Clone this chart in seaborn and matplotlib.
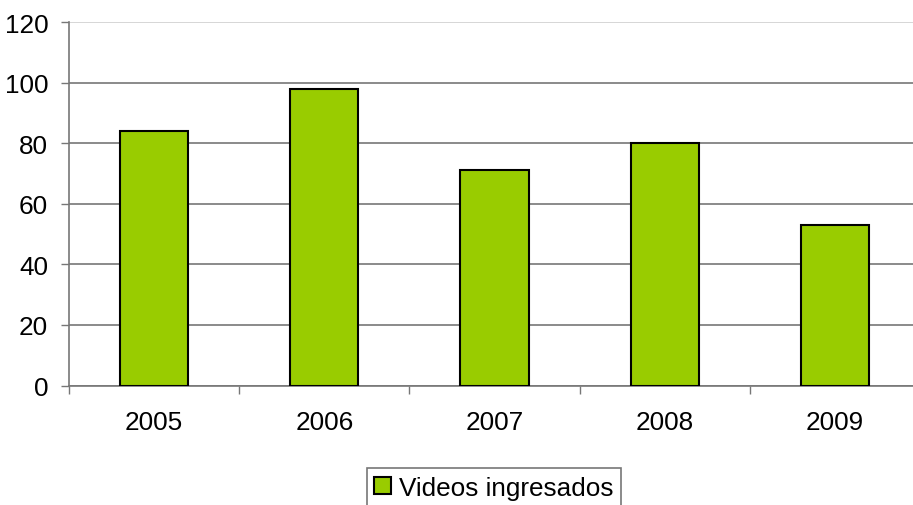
import matplotlib
matplotlib.use("Agg")
import matplotlib.pyplot as plt
from matplotlib.patches import Patch
from matplotlib.ticker import FixedLocator
import seaborn as sns

# data
years = ["2005", "2006", "2007", "2008", "2009"]
videos = [84, 98, 71, 80, 53]
series_label = "Videos ingresados"
y_ticks = [0, 20, 40, 60, 80, 100, 120]

sns.set_style("white")
plt.rcParams["font.family"] = ["Liberation Sans", "DejaVu Sans"]
plt.rcParams["text.color"] = "black"
plt.rcParams["xtick.labelcolor"] = "black"
plt.rcParams["ytick.labelcolor"] = "black"

fs = 18.8
fig = plt.figure(figsize=(9.13, 5.06), dpi=100)
ax = fig.add_axes([69 / 913, 119.5 / 506, 851 / 913, 363.5 / 506])

sns.barplot(x=years, y=videos, color="#99CC00", width=0.4,
            edgecolor="black", linewidth=1.5, saturation=1, ax=ax, zorder=3)

ax.set_xlim(-0.5, 4.5)
ax.set_ylim(0, 120)
ax.set_yticks(y_ticks)
ax.yaxis.grid(True, color="#777777", linewidth=1.2)
ax.set_axisbelow(True)
ax.set_xlabel("")
ax.set_ylabel("")

for side in ["top", "right"]:
    ax.spines[side].set_visible(False)
ax.spines["left"].set_color("#777777")
ax.spines["bottom"].set_color("#777777")
ax.spines["left"].set_linewidth(1.2)
ax.spines["bottom"].set_linewidth(1.2)
ax.axhline(120, color="#e6e6e6", linewidth=1.2, zorder=1)

ax.tick_params(axis="y", length=6, width=1, color="#777777", pad=9, labelsize=fs, left=True)
ax.tick_params(axis="x", which="major", length=0, pad=18, labelsize=fs)
ax.xaxis.set_minor_locator(FixedLocator([-0.5, 0.5, 1.5, 2.5, 3.5]))
ax.tick_params(axis="x", which="minor", length=6, width=1, color="#777777", bottom=True)

handle = Patch(facecolor="#99CC00", edgecolor="black", linewidth=1.5, label=series_label)
leg = fig.legend(handles=[handle], loc="upper center", bbox_to_anchor=(494 / 913, 1 - 469 / 506),
                 fontsize=fs, frameon=True, fancybox=False, handlelength=0.65, handleheight=0.65,
                 handletextpad=0.3, borderpad=0.3, borderaxespad=0)
leg.get_frame().set_edgecolor("#555555")
leg.get_frame().set_linewidth(1.2)

fig.savefig("out.png", dpi=100)
